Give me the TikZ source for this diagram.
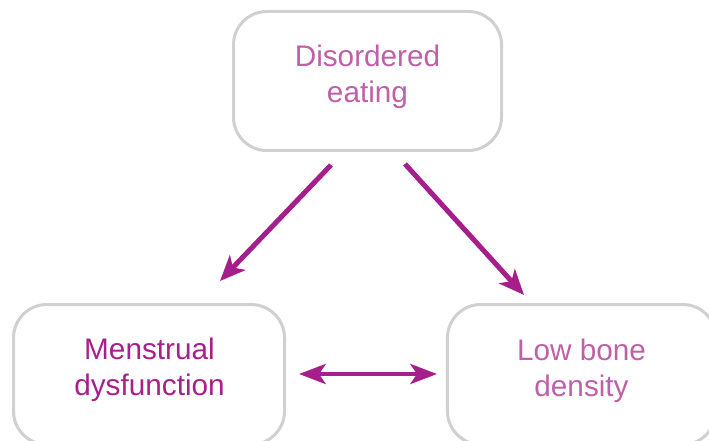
\documentclass[tikz,border=0pt]{standalone}
\usepackage{fontspec}
\setmainfont{Liberation Sans}
\usetikzlibrary{arrows.meta}
\definecolor{boxgray}{RGB}{208,208,208}
\definecolor{lightmag}{RGB}{192,96,168}
\definecolor{darkmag}{RGB}{168,32,140}
\definecolor{arrowmag}{RGB}{166,30,140}
\begin{document}
\begin{tikzpicture}[x=0.75pt,y=-0.75pt,
  box/.style={draw=boxgray, line width=2.25pt, rounded corners=25pt, inner sep=0pt, outer sep=0pt},
  lbl/.style={font=\fontsize{22.3}{27}\selectfont, align=center, inner sep=0pt},
  conn/.style={draw=arrowmag, line width=3.75pt, -{Stealth[length=19pt, width=16pt, inset=5pt]}},
  conn2/.style={draw=arrowmag, line width=3.2pt, {Stealth[length=20pt, width=15pt, inset=5pt]}-{Stealth[length=20pt, width=15pt, inset=5pt]}}
]
\useasboundingbox (0,0) rectangle (709,441);
\clip (0,0) rectangle (709,441);
\fill[white] (0,0) rectangle (709,441);
\node[box, minimum width=201pt, minimum height=104.25pt] (top) at (367.5,81) {};
\node[box, minimum width=203.25pt, minimum height=105pt] (ml) at (149,374.5) {};
\node[box, minimum width=201.4pt, minimum height=105pt] (mr) at (581.75,374.5) {};
\node[lbl, text=lightmag] (ttop) at (367.5,77) {Disordered\\eating};
\node[lbl, text=darkmag] (tml) at (149.5,369.5) {Menstrual\\dysfunction};
\node[lbl, text=lightmag] (tmr) at (581.5,370.5) {Low bone\\density};
\coordinate (a1s) at (331,165);
\coordinate (a1e) at (220,281);
\coordinate (a2s) at (405,164);
\coordinate (a2e) at (524,295);
\coordinate (a3s) at (299,374);
\coordinate (a3e) at (437,374);
\draw[conn] (a1s) -- (a1e);
\draw[conn] (a2s) -- (a2e);
\draw[conn2] (a3s) -- (a3e);
\end{tikzpicture}
\end{document}
